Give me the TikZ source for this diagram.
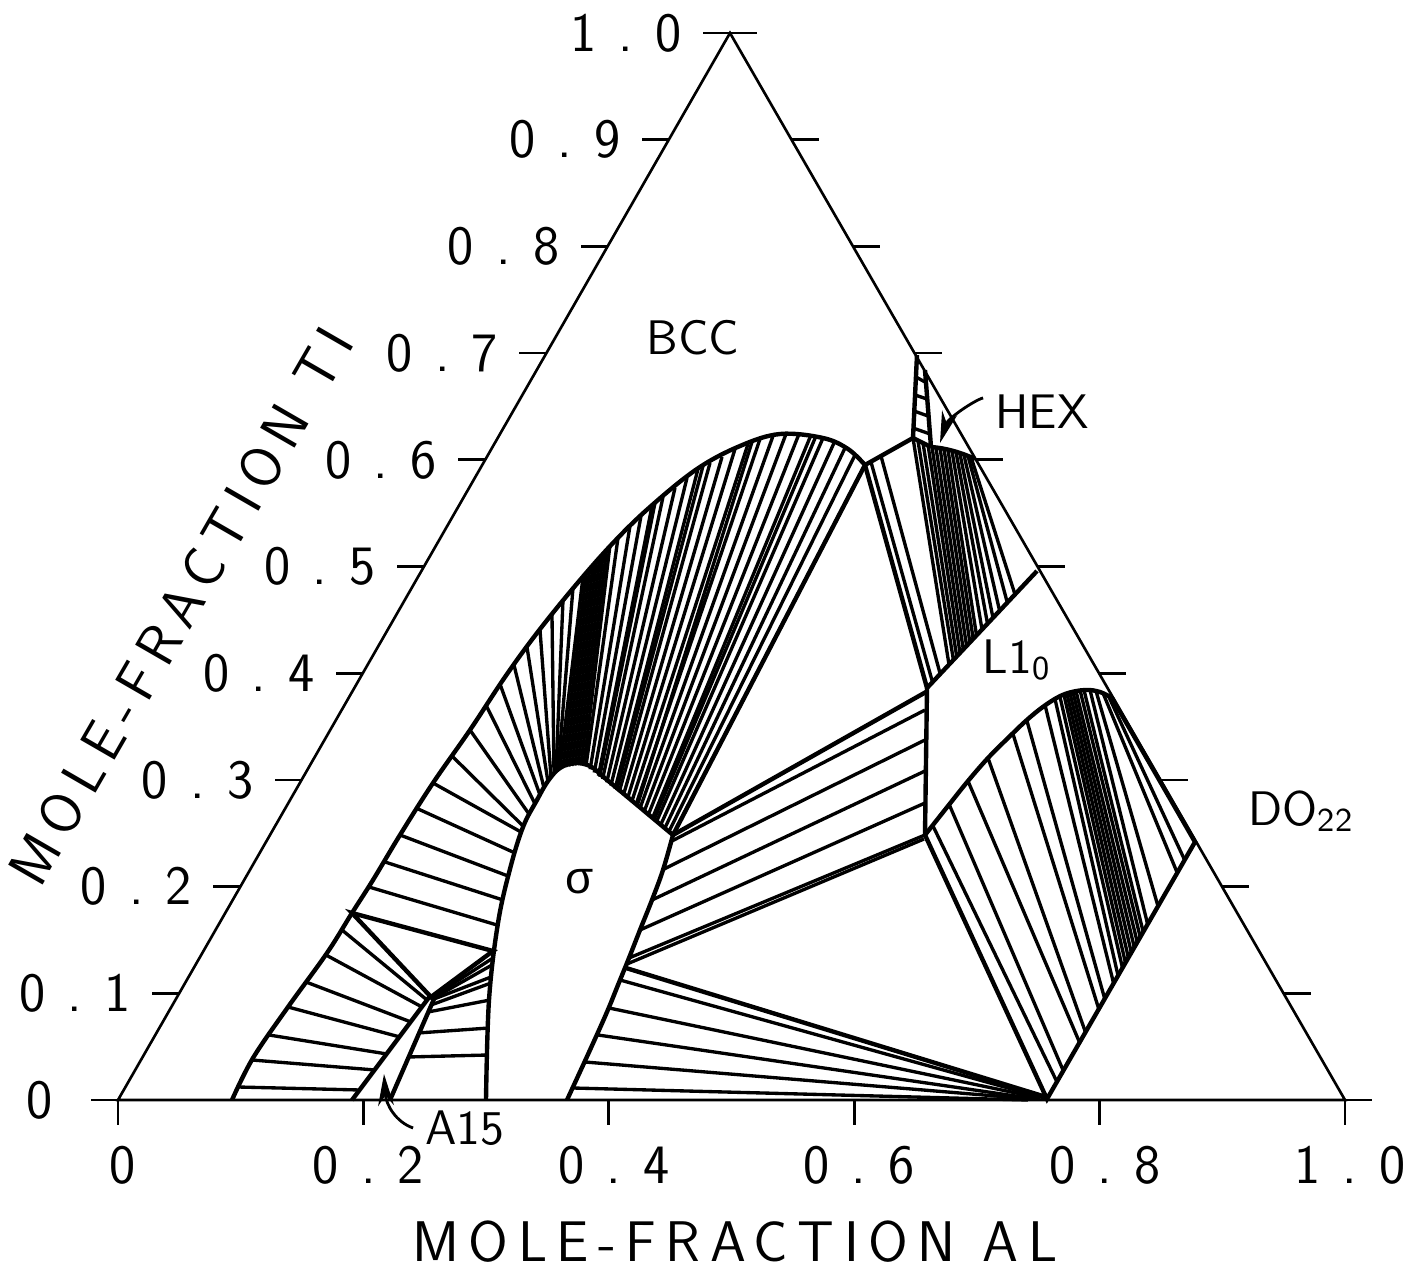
\documentclass[tikz,border=0pt]{standalone}
\usepackage{fontspec}
\setsansfont{Latin Modern Sans}
\newfontfamily\greekfont{Liberation Sans}
\newfontfamily\plotfont[LetterSpace=40]{Latin Modern Sans}
\newfontfamily\axisfont[LetterSpace=16.5]{Latin Modern Sans}
\usetikzlibrary{arrows.meta,calc}
\newcommand\lowidx[1]{\raisebox{-0.3ex}{\fontsize{9.5}{9.5}\selectfont #1}}

\tikzset{
  frame/.style={line width=0.75pt},
  tie/.style={line width=0.95pt},
  bound/.style={line width=1.25pt},
  phase/.style={font=\sffamily\fontsize{13.8}{13.8}\selectfont},
  ticklab/.style={font=\plotfont\fontsize{15.8}{15.8}\selectfont},
  axislab/.style={font=\axisfont\fontsize{16.3}{16.3}\selectfont},
  leader/.style={line width=0.8pt,-{Stealth[length=9pt,width=4.5pt]}}
}

\begin{document}
\begin{tikzpicture}[x=0.01cm,y=-0.01cm]
  \useasboundingbox (0,0) rectangle (1417,1285);

  % frame and ticks
  \coordinate (lc) at (118,1100);
  \coordinate (rc) at (1345,1100);
  \coordinate (apex) at (730,33);
  \draw[frame] (lc) -- (apex) -- (rc) -- cycle;
  \foreach \k/\lab/\dx in {0/0/53,1/0.1/36,2/0.2/36,3/0.3/36,4/0.4/36,5/0.5/36,6/0.6/36,7/0.7/36,8/0.8/36,9/0.9/36,10/1.0/36} {
    \pgfmathsetmacro\yy{1100-106.7*\k}
    \pgfmathsetmacro\xl{118+61.2*\k}
    \pgfmathsetmacro\xr{1345-61.5*\k}
    \draw[frame] (\xl,\yy) -- ++(-27,0);
    \draw[frame] (\xr,\yy) -- ++(27,0);
    \node[ticklab,anchor=east] (ti\k) at (\xl-\dx,\yy) {\lab};
  }
  \foreach \m/\lab in {0/0,1/0.2,2/0.4,3/0.6,4/0.8,5/1.0} {
    \pgfmathsetmacro\xx{118+245.4*\m}
    \draw[frame] (\xx,1100) -- ++(0,25);
    \node[ticklab] (al\m) at (\xx+5,1165) {\lab};
  }
  \node[axislab] (xtitle) at (735,1242) {MOLE-FRACTION AL};
  \node[axislab,rotate=60] (ytitle) at (181,606) {MOLE-FRACTION TI};

  % named corners of the fans
  \coordinate (lo0) at (927,688);
  \coordinate (lo1) at (1037,571);
  \coordinate (do0) at (1047,1099);
  \coordinate (do1) at (1195,842);

  % left lens: BCC boundary
  \draw[bound] plot[smooth,tension=0.6] coordinates {(232,1100) (253,1058) (288,1007) (327,953) (352,913) (373,880) (400,835) (433,783) (470,730) (505,677) (537,633) (575,586) (613,543) (650,507) (697,469) (740,446) (780,434) (823,438) (848,449) (865,465)};
  \draw[bound] (865,465) -- (673,835);

  % sigma
  \draw[bound] plot[smooth,tension=0.6] coordinates {(486,1100) (489,1000) (498,923) (510,869) (523,827) (537,800) (548,781) (560,768) (575,763) (590,766) (600,774)};
  \draw[bound] (600,774) -- (673,835);
  \draw[bound] plot[smooth,tension=0.6] coordinates {(673,835) (663,870) (652,900) (640,930) (629,958) (618,985) (607,1012) (590,1050) (567,1100)};

  % A15 and the three-phase triangle
  \draw[bound] (352,1100) -- (430,996) -- (434,999) -- (390,1100);
  \draw[bound] (352,913) -- (431,997) -- (493,951) -- cycle;
  \foreach \xa/\ya/\xb/\yb in {238/1087/360/1090,252/1060/375/1070,269/1035/387/1054,288/1007/400/1037,306/982/411/1022,326/955/422/1007,342/930/427/1000}
    \draw[tie] (\xa,\ya) -- (\xb,\yb);
  \foreach \xa/\ya/\xb/\yb in {431/998/493/958,432/999/492/965,434/999/491/977,431/1005/491/983,428/1012/490/1000,418/1033/489/1028,408/1057/488/1055}
    \draw[tie] (\xa,\ya) -- (\xb,\yb);

  % BCC + sigma
  \foreach \xa/\ya/\xb/\yb in {369/887/497/925,385/862/503/900,400/835/508/876,416/808/515/853,433/783/521/832,452/756/523/826,470/730/529/814,486/705/535/804,500/684/540/795,514/665/544/788,527/647/548/782,540/630/551/777,552/615/554/774,563/600/556/772,573/588/558/770}
    \draw[tie] (\xa,\ya) -- (\xb,\yb);
  \foreach \t in {0,0.125,...,1}
    \draw[tie] ($(583,577)!\t!(610,545)$) -- ($(560,768)!\t!(584,764)$);
  \foreach \xa/\ya [count=\i from 0] in {618/538,630/526,641/516,652/506,663/497,675/488,687/478,698/469,710/463,722/457,735/449,748/444,760/439,773/436,786/434,799/434,811/435,823/438,834/443,845/448,855/455,865/465}
    \draw[tie] (\xa,\ya) -- ($(586,766)!\i/21!(673,835)$);
  \foreach \xa/\ya/\s in {655/503/0.157,703/466/0.352,752/442/0.586,816/436/0.781}
    \draw[tie] (\xa,\ya) -- ($(586,766)!\s!(673,835)$);

  % HEX corner
  \draw[bound] (865,465) -- (913,438) -- (931,447);
  \draw[bound] (917,355) -- (913,438);
  \draw[bound] (925,370) -- (931,447);
  \draw[bound] (931,447) .. controls (945,448) and (960,452) .. (975,459);
  \foreach \xa/\ya/\xb/\yb in {916/377/925/382,915/395/927/399,914/411/928/416,913/428/930/434}
    \draw[tie] (\xa,\ya) -- (\xb,\yb);

  % BCC/HEX + L1_0
  \draw[bound] (865,465) -- (lo0) -- (lo1);
  \draw[bound] (lo0) -- (925,835);
  \foreach \xa/\ya/\v in {871/462/0.05,881/456/0.12,913/438/0.2,918/441/0.24,923/443/0.27,928/445/0.3,932/447/0.33,936/448/0.36,940/448/0.39,944/449/0.42,948/450/0.45,952/451/0.5,956/452/0.55,960/454/0.6,964/455/0.66,968/456/0.73,971/457/0.8}
    \draw[tie] (\xa,\ya) -- ($(lo0)!\v!(lo1)$);

  % sigma + L1_0, sigma + DO22
  \foreach \xa/\ya/\xb/\yb in {670/842/925/710,662/870/925/740,652/900/925/771,640/930/925/803,629/958/925/835,627/964/924/839}
    \draw[tie] (\xa,\ya) -- (\xb,\yb);
  \draw[bound] (673,835) -- (926,692);
  \draw[bound] (626,968) -- (1046,1097);
  \foreach \xa/\ya/\xb/\yb in {620/980/1044/1098,609/1008/1040/1098,598/1035/1036/1099,585/1062/1032/1099,573/1088/1028/1100}
    \draw[tie] (\xa,\ya) -- (\xb,\yb);

  % L1_0 + DO22
  \draw[bound] plot[smooth,tension=0.6] coordinates {(925,835) (948,806) (968,781) (988,758) (1008,738) (1028,719) (1047,704) (1065,694) (1085,690) (1100,692) (1112,698)};
  \draw[bound] (1112,698) -- (do1) -- (do0) -- (925,835);
  \foreach \xa/\ya/\u in {933/826/0.067,949/804/0.11,968/781/0.22,988/758/0.26,1013/734/0.35,1027/721/0.39,1045/705/0.45,1055/699/0.48,1060/697/0.51,1064/695/0.53,1067/694/0.55,1070/693/0.57,1073/692/0.59,1076/691/0.61,1080/690/0.63,1084/690/0.65,1090/690/0.68,1096/691/0.75,1103/693/0.88,1108/695/0.93}
    \draw[tie] (\xa,\ya) -- ($(do0)!\u!(do1)$);

  % phase labels
  \node[phase] (bcc) at (693,338) {BCC};
  \node[phase] (hex) at (1042,412) {HEX};
  \node[phase,anchor=base west,inner sep=0] (lone) at (982,673) {L1\lowidx{0}};
  \node[phase,anchor=base west,inner sep=0] (dotwo) at (1248,825) {DO\lowidx{22}};
  \node[font=\greekfont\fontsize{13}{13}\selectfont] (sig) at (580,882) {σ};
  \node[phase] (afift) at (465,1128) {A15};
  \coordinate (hexpt) at (940,443);
  \coordinate (afpt) at (384,1074);
  \draw[leader] ([yshift=4pt]hex.west) .. controls (975,400) and (948,418) .. (hexpt);
  \draw[leader] (afift.west) .. controls (396,1122) and (386,1105) .. (afpt);
\end{tikzpicture}
\end{document}
